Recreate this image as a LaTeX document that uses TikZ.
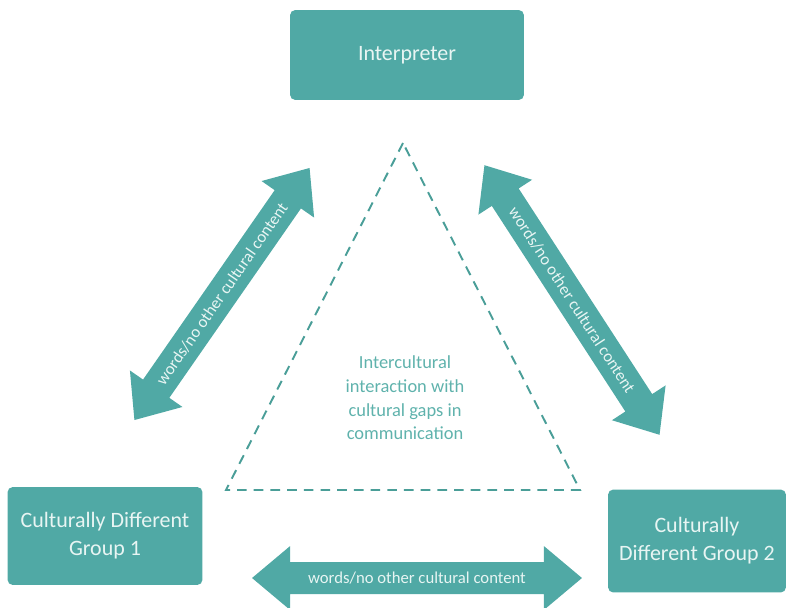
\documentclass[tikz,border=0pt]{standalone}
\usepackage{fontspec}
\setmainfont{Carlito}
\usetikzlibrary{shapes.arrows}

\definecolor{teal1}{RGB}{80,169,165}
\definecolor{teal2}{RGB}{74,158,152}
\definecolor{tealtext}{RGB}{95,178,172}
\definecolor{boxtext}{RGB}{232,245,243}

\tikzset{
  party/.style={draw=none, fill=teal1, rounded corners=3pt, text=boxtext,
    align=center, font=\fontsize{12.5}{16}\selectfont},
  channel/.style={double arrow, fill=teal1, text=boxtext, minimum height=#1,
    inner xsep=0pt, inner ysep=0.19cm, double arrow head extend=0.32cm,
    double arrow tip angle=80, font=\fontsize{9.5}{11}\selectfont},
  gapline/.style={draw=teal2, line width=1.1pt, dash pattern=on 5.5pt off 4pt}
}

\begin{document}
\begin{tikzpicture}[x=0.02cm, y=-0.02cm]
  \useasboundingbox (0,0) rectangle (791,608);

  \node[party, minimum width=4.68cm, minimum height=1.8cm] (interp) at (407,55) {Interpreter};
  \node[party, minimum width=3.9cm, minimum height=1.96cm] (grp1) at (105,536) {Culturally Different\\Group 1};
  \node[party, minimum width=3.56cm, minimum height=2.06cm] (grp2) at (697,541) {Culturally\\Different Group 2};

  \coordinate (apex) at (403,143);
  \coordinate (left) at (226,490);
  \coordinate (right) at (580,490);
  \draw[gapline] (apex) -- (left) -- (right) -- cycle;

  \node[text=tealtext, align=center, font=\fontsize{10.5}{13.5}\selectfont] (gaps) at (405,398)
    {Intercultural\\interaction with\\cultural gaps in\\communication};

  \node[channel=6.14cm, rotate=55.2] (link1) at (222,294) {words/no other cultural content};
  \node[channel=6.43cm, rotate=-57] (link2) at (572,300) {words/no other cultural content};
  \node[channel=6.6cm] (link3) at (417,578) {words/no other cultural content};
\end{tikzpicture}
\end{document}
